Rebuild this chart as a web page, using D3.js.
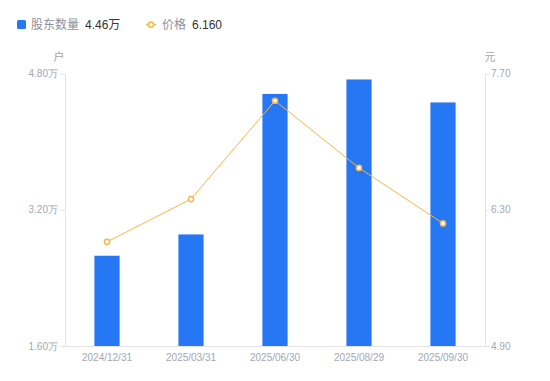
<!DOCTYPE html>
<html>
<head>
<meta charset="utf-8">
<script src="https://cdn.jsdelivr.net/npm/d3@7"></script>
<style>
  body { margin: 0; background: #fff; }
  svg { display: block; font-family: "Liberation Sans", Arial, "Noto Sans CJK SC", sans-serif; }
</style>
</head>
<body>
<svg id="chart" width="550" height="381"></svg>
<script>
const dates = ["2024/12/31", "2025/03/31", "2025/06/30", "2025/08/29", "2025/09/30"];
const holders = [2.66, 2.91, 4.56, 4.73, 4.46];   // 万户
const prices = [5.97, 6.41, 7.42, 6.73, 6.16];     // 元
const leftTicks = [1.60, 3.20, 4.80];
const rightTicks = [4.90, 6.30, 7.70];

const barColor = "#2677f4";
const lineColor = "#f8b54a";
const axisColor = "#e3e4ea";
const labelColor = "#a3a6b4";

const svg = d3.select("#chart");
const area = { left: 65, right: 485, top: 73.5, bottom: 346 };

const scX = d3.scaleBand()
    .domain(dates)
    .range([area.left, area.right]);

const scY = d3.scaleLinear()
    .domain([1.60, 4.80])
    .range([area.bottom, area.top]);

const scY2 = d3.scaleLinear()
    .domain([4.90, 7.70])
    .range([area.bottom, area.top]);

// axes
function styleAxis(g) {
    g.select(".domain").attr("stroke", axisColor);
    g.selectAll(".tick line").attr("stroke", axisColor);
    g.selectAll(".tick text").attr("fill", labelColor).style("font-size", "10px");
}

svg.append("g")
    .attr("transform", `translate(${area.left},0)`)
    .call(d3.axisLeft(scY).tickValues(leftTicks).tickSize(5).tickSizeOuter(0)
        .tickFormat(d => d3.format(".2f")(d) + "万"))
    .call(styleAxis)
    .call(g => g.selectAll(".tick text").attr("x", -7));

svg.append("g")
    .attr("transform", `translate(${area.right},0)`)
    .call(d3.axisRight(scY2).tickValues(rightTicks).tickSize(5).tickSizeOuter(0)
        .tickFormat(d3.format(".2f")))
    .call(styleAxis)
    .call(g => g.selectAll(".tick text").attr("x", 6));

svg.append("g")
    .attr("transform", `translate(0,${area.bottom})`)
    .call(d3.axisBottom(scX).tickSize(0).tickSizeOuter(0))
    .call(styleAxis)
    .call(g => g.select(".domain").attr("d", `M${area.left - 5},0.5H${area.right + 5}`))
    .call(g => g.selectAll(".tick text").attr("y", 8));

// unit labels
svg.append("text").attr("x", 59).attr("y", 61).attr("text-anchor", "middle")
    .attr("fill", labelColor).style("font-size", "11px").text("户");
svg.append("text").attr("x", 490).attr("y", 61).attr("text-anchor", "middle")
    .attr("fill", labelColor).style("font-size", "11px").text("元");

// bars
const barW = scX.bandwidth() * 0.3;
svg.selectAll(".bar")
    .data(holders)
    .enter()
    .append("rect")
    .attr("x", (d, i) => scX(dates[i]) + scX.bandwidth() / 2 - barW / 2)
    .attr("y", d => scY(d))
    .attr("width", barW)
    .attr("height", d => area.bottom - scY(d))
    .attr("fill", barColor);

// price line
const line = d3.line()
    .x((d, i) => scX(dates[i]) + scX.bandwidth() / 2)
    .y(d => scY2(d));

svg.append("path")
    .datum(prices)
    .attr("fill", "none")
    .attr("stroke", lineColor)
    .attr("stroke-width", 1)
    .attr("d", line);

svg.selectAll(".dot")
    .data(prices)
    .enter()
    .append("circle")
    .attr("cx", (d, i) => scX(dates[i]) + scX.bandwidth() / 2)
    .attr("cy", d => scY2(d))
    .attr("r", 2.6)
    .attr("fill", "#fff")
    .attr("stroke", lineColor)
    .attr("stroke-width", 1.5);

// legend
const legend = svg.append("g").style("font-size", "12px");
legend.append("rect").attr("x", 17).attr("y", 20).attr("width", 9).attr("height", 9)
    .attr("rx", 1.5).attr("fill", barColor);
legend.append("text").attr("x", 31).attr("y", 29).attr("fill", "#8d909c").text("股东数量");
legend.append("text").attr("x", 85).attr("y", 29).attr("fill", "#333").text(d3.format(".2f")(holders[holders.length - 1]) + "万");

legend.append("line").attr("x1", 146).attr("x2", 156).attr("y1", 24.5).attr("y2", 24.5)
    .attr("stroke", lineColor).attr("stroke-width", 1.5);
legend.append("circle").attr("cx", 151).attr("cy", 24.5).attr("r", 2.6)
    .attr("fill", "#fff").attr("stroke", lineColor).attr("stroke-width", 1.5);
legend.append("text").attr("x", 162).attr("y", 29).attr("fill", "#8d909c").text("价格");
legend.append("text").attr("x", 192).attr("y", 29).attr("fill", "#333").text(d3.format(".3f")(prices[prices.length - 1]));
</script>
</body>
</html>
